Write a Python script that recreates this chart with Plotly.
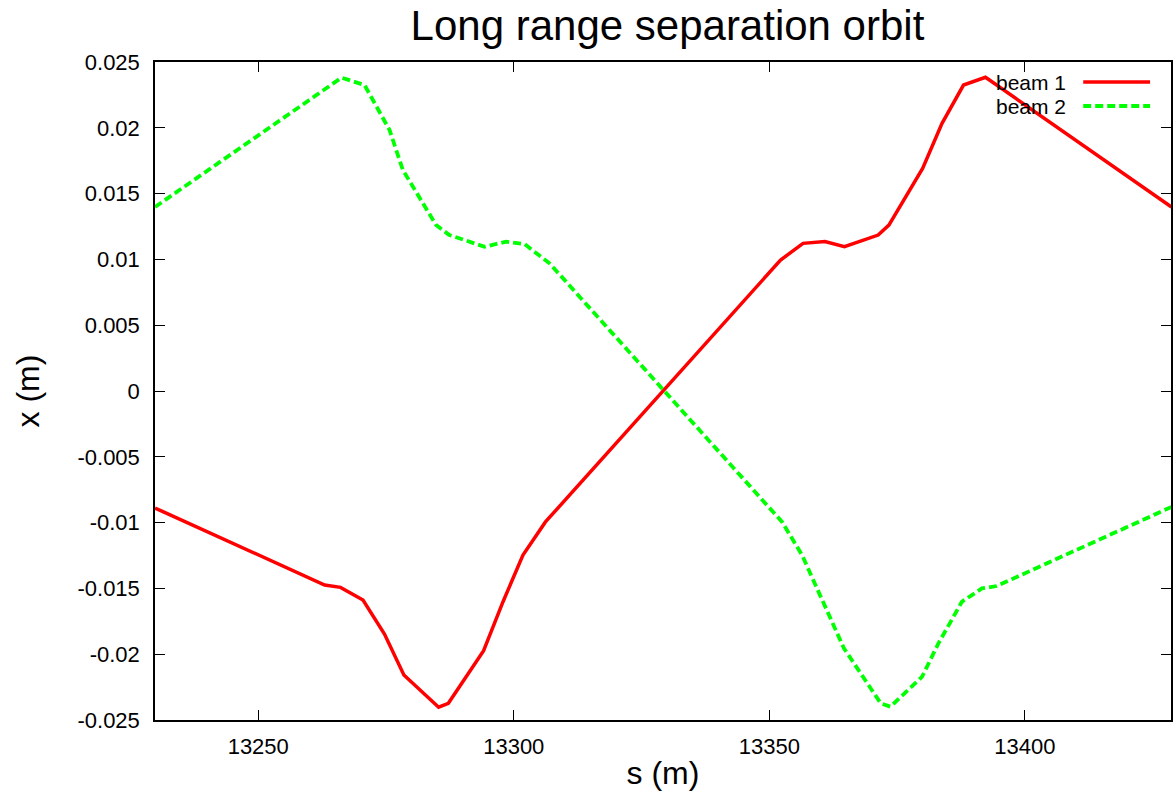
import plotly.graph_objects as go

# ---- data ----
s_beam1 = [13229.8, 13263.0, 13266.1, 13270.5, 13274.7, 13278.5, 13285.3, 13287.2,
           13294.1, 13297.9, 13301.8, 13306.2, 13352.2, 13356.6, 13360.9, 13364.7,
           13371.3, 13373.4, 13380.0, 13383.8, 13388.0, 13392.3, 13428.7]
x_beam1 = [-0.00889, -0.01474, -0.01492, -0.01588, -0.01847, -0.02158, -0.02403, -0.02373,
           -0.01973, -0.01601, -0.01246, -0.00995, 0.00995, 0.01122, 0.01135, 0.01096,
           0.01185, 0.01261, 0.01692, 0.02034, 0.02325, 0.02384, 0.01398]

s_beam2 = [13229.8, 13266.3, 13270.8, 13275.7, 13278.3, 13284.8, 13287.4, 13294.3,
           13298.5, 13302.1, 13307.0, 13352.5, 13356.4, 13364.6, 13371.8, 13373.7,
           13379.9, 13383.1, 13387.7, 13391.6, 13394.5, 13428.7]
x_beam2 = [0.01398, 0.02381, 0.02325, 0.01983, 0.01679, 0.01261, 0.01185, 0.01096,
           0.01135, 0.01117, 0.00970, -0.00995, -0.01246, -0.01955, -0.02373, -0.02399,
           -0.02171, -0.01917, -0.01601, -0.01500, -0.01482, -0.00881]

x_tick_vals = [13250, 13300, 13350, 13400]
x_tick_text = ["13250", "13300", "13350", "13400"]
y_tick_vals = [0.025, 0.02, 0.015, 0.01, 0.005, 0, -0.005, -0.01, -0.015, -0.02, -0.025]
y_tick_text = ["0.025", "0.02", "0.015", "0.01", "0.005", "0", "-0.005", "-0.01",
               "-0.015", "-0.02", "-0.025"]

series_names = ["beam 1", "beam 2"]
RED = "#ff0000"
GREEN = "#00ff00"
FONT = "Liberation Sans, Arial, sans-serif"

fig = go.Figure()
fig.add_trace(go.Scatter(x=s_beam1, y=x_beam1, mode="lines", name=series_names[0],
                         line=dict(color=RED, width=3.5), showlegend=False))
fig.add_trace(go.Scatter(x=s_beam2, y=x_beam2, mode="lines", name=series_names[1],
                         line=dict(color=GREEN, width=3.8, dash="8px,4px"), showlegend=False))

# legend drawn gnuplot-style: text on the left, sample line on the right
leg_y = [0.9696, 0.9331]
leg_style = [dict(color=RED, width=3.5), dict(color=GREEN, width=3.8, dash="8px,4px")]
for name, yy, st in zip(series_names, leg_y, leg_style):
    fig.add_annotation(xref="paper", yref="paper", x=0.8978, y=yy, text=name,
                       showarrow=False, xanchor="right", yanchor="middle",
                       height=20, valign="middle", borderpad=0,
                       font=dict(family=FONT, size=21, color="black"))
    fig.add_shape(type="line", xref="paper", yref="paper", x0=0.9136, x1=0.9794,
                  y0=yy, y1=yy, line=st)

axis_common = dict(showline=True, mirror="ticks", linecolor="black", linewidth=1.5,
                   ticks="inside", ticklen=10, tickwidth=1.2, tickcolor="black",
                   showgrid=False, zeroline=False,
                   tickfont=dict(family=FONT, size=22, color="black"))

fig.update_layout(
    width=1173, height=791,
    margin=dict(l=155, r=0, t=62, b=71),
    paper_bgcolor="white", plot_bgcolor="white",
    title=dict(text="Long range separation orbit", x=0.5044, xref="paper",
               y=1 - 25 / 791, yref="container", xanchor="center", yanchor="middle",
               font=dict(family=FONT, size=42, color="black")),
    xaxis=dict(range=[13229.8, 13428.6], tickvals=x_tick_vals, ticktext=x_tick_text,
               title=dict(text="s (m)", standoff=8,
                          font=dict(family=FONT, size=32, color="black")),
               ticklabelstandoff=6, **axis_common),
    yaxis=dict(range=[-0.025, 0.025], tickvals=y_tick_vals, ticktext=y_tick_text,
               title=dict(text="x (m)", standoff=28,
                          font=dict(family=FONT, size=32, color="black")),
               ticklabelstandoff=9, **axis_common),
)

fig.write_html("out.html")
